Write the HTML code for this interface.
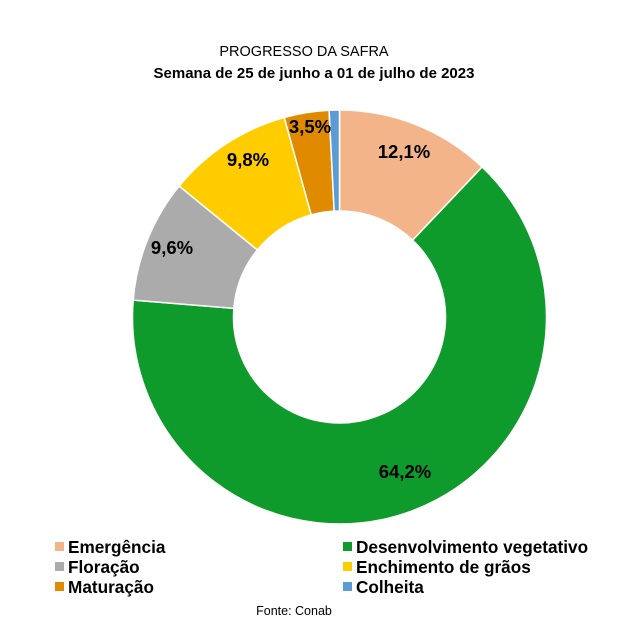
<!DOCTYPE html>
<html><head><meta charset="utf-8"><style>
body{margin:0;background:#fff;}
svg{display:block;font-family:"Liberation Sans",Arial,sans-serif;}
</style></head><body>
<svg id="s" width="627" height="629" viewBox="0 0 627 629">
<rect width="627" height="629" fill="#fff"/>
<text x="304" y="56" text-anchor="middle" font-size="14.5">PROGRESSO DA SAFRA</text>
<text x="314" y="78" text-anchor="middle" font-size="15" font-weight="bold">Semana de 25 de junho a 01 de julho de 2023</text>
<g id="pie"></g>
<g font-size="18.5" font-weight="bold" text-anchor="middle">
<text x="404" y="158">12,1%</text>
<text x="405" y="478">64,2%</text>
<text x="172" y="254">9,6%</text>
<text x="248" y="166">9,8%</text>
<text x="310" y="133">3,5%</text>
</g>
<g font-size="17.2" font-weight="bold">
<rect x="55" y="542" width="9" height="9" fill="#F4B48A"/><text x="68" y="553">Emergência</text>
<rect x="55" y="562" width="9" height="9" fill="#ABABAB"/><text x="68" y="573">Floração</text>
<rect x="55" y="582" width="9" height="9" fill="#E08A00"/><text x="68" y="593">Maturação</text>
<rect x="343" y="542" width="9" height="9" fill="#0F9A2C"/><text x="356" y="553">Desenvolvimento vegetativo</text>
<rect x="343" y="562" width="9" height="9" fill="#FFCC00"/><text x="356" y="573">Enchimento de grãos</text>
<rect x="343" y="582" width="9" height="9" fill="#5B9BD5"/><text x="356" y="593">Colheita</text>
</g>
<text x="294" y="615" text-anchor="middle" font-size="12.5">Fonte: Conab</text>
</svg>
<script>
var d=[[12.1,"#F4B48A"],[64.2,"#0F9A2C"],[9.6,"#ABABAB"],[9.8,"#FFCC00"],[3.5,"#E08A00"],[0.8,"#5B9BD5"]];
var cx=339.5,cy=317,R=207,r=106,a=0,h="";
function p(rad,ang){return [cx+rad*Math.sin(ang),cy-rad*Math.cos(ang)];}
d.forEach(function(v){var a2=a+v[0]/100*2*Math.PI;var l=(a2-a)>Math.PI?1:0;
var A=p(R,a),B=p(R,a2),C=p(r,a2),D=p(r,a);
h+='<path d="M'+A+' A'+R+','+R+' 0 '+l+' 1 '+B+' L'+C+' A'+r+','+r+' 0 '+l+' 0 '+D+' Z" fill="'+v[1]+'" stroke="#fff" stroke-width="1.5"/>';a=a2;});
document.getElementById("pie").innerHTML=h;
</script>
</body></html>
